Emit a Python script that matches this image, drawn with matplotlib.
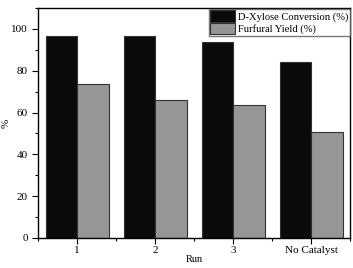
import numpy as np
import matplotlib.pyplot as plt
from matplotlib.ticker import MultipleLocator

plt.rcParams['font.family'] = ['Liberation Serif', 'DejaVu Serif']

# Datos
runs = ["1", "2", "3", "No Catalyst"]
conversion = [96.8, 96.8, 93.6, 84.1]
furfural = [73.5, 66.0, 63.5, 50.9]

x = np.arange(1, len(runs) + 1)
w = 0.405

fig = plt.figure(figsize=(3.53, 2.68), dpi=100)
ax = fig.add_axes([0.108, 0.112, 0.884, 0.858])

ax.bar(x - w / 2, conversion, width=w, color='#0a0a0a', edgecolor='#333333', lw=0.8,
       label="D-Xylose Conversion (%)")
ax.bar(x + w / 2, furfural, width=w, color='#969696', edgecolor='#333333', lw=0.8,
       label="Furfural Yield (%)")

ax.set_xlim(0.5, 4.5)
ax.set_ylim(0, 110)
ax.set_xticks(x)
ax.set_xticklabels(runs)
ax.xaxis.set_minor_locator(MultipleLocator(0.5))
ax.yaxis.set_major_locator(MultipleLocator(20))
ax.yaxis.set_minor_locator(MultipleLocator(10))
ax.tick_params(which='both', direction='out', labelsize=8, width=0.8)
ax.tick_params(which='major', length=4)
ax.tick_params(which='minor', length=2)
ax.tick_params(axis='x', pad=2)
for s in ax.spines.values():
    s.set_linewidth(1.0)

ax.set_ylabel("%", fontsize=8, labelpad=0)
ax.set_xlabel("Run", fontsize=7.5, labelpad=0)

ax.legend(loc='upper right', fontsize=7.6, frameon=True, fancybox=False, edgecolor='#555555',
          borderpad=0.15, labelspacing=0.1, handlelength=2.3, handleheight=1.3,
          handletextpad=0.3, borderaxespad=0.05)

fig.savefig("out.png", dpi=100)
